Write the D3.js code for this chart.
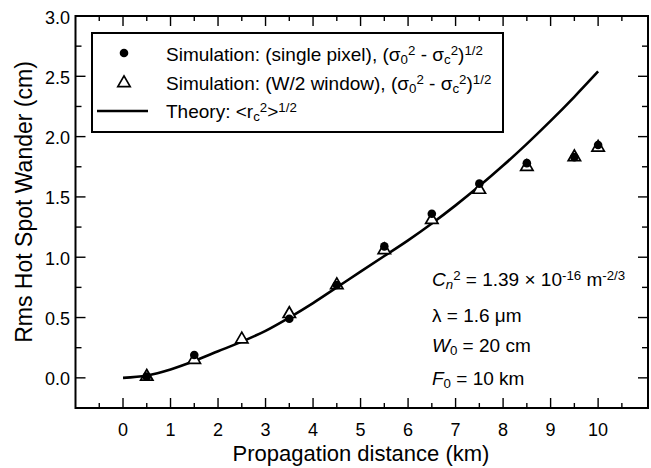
<!DOCTYPE html>
<html><head><meta charset="utf-8">
<script src="https://cdn.jsdelivr.net/npm/d3@7"></script>
<style>body{margin:0;background:#fff}svg{display:block}text{font-family:"Liberation Sans",Arial,sans-serif;fill:#000}</style>
</head><body>
<svg id="c" width="651" height="468"></svg>
<script>
const simDist = [0.5,1.5,3.5,4.5,5.5,6.5,7.5,8.5,9.5,10];
const simSingle = [0.01,0.19,0.49,0.77,1.09,1.36,1.61,1.78,1.83,1.93];
const winDist = [0.5,1.5,2.5,3.5,4.5,5.5,6.5,7.5,8.5,9.5,10];
const simWindow = [0.01,0.15,0.32,0.53,0.77,1.06,1.31,1.56,1.75,1.83,1.91];
const theoryDist = [0,0.5,1,1.5,2,2.5,3,3.5,4,4.5,5,5.5,6,6.5,7,7.5,8,8.5,9,9.5,10];
const theoryVal = [0,0.02,0.07,0.14,0.22,0.30,0.39,0.50,0.62,0.75,0.88,1.01,1.14,1.28,1.43,1.59,1.76,1.94,2.13,2.33,2.54];
const xTicks = [0,1,2,3,4,5,6,7,8,9,10];
const yTicks = [0,0.5,1,1.5,2,2.5,3];

const svg = d3.select("#c");
const L=75.5,R=648,T=16,B=408;
const x = d3.scaleLinear().domain([-1,11.05]).range([L,R]);
const y = d3.scaleLinear().domain([-0.25,3]).range([B,T]);

svg.append("rect").attr("x",L).attr("y",T).attr("width",R-L).attr("height",B-T)
  .attr("fill","none").attr("stroke","#000").attr("stroke-width",2);

const xMinor = d3.range(-0.5,11,1);
const xMajor = d3.range(0,11,1);
const yMinor = d3.range(-0.25,3,0.5);
const g = svg.append("g").attr("stroke","#000").attr("stroke-width",1.4);
function tk(x1,y1,x2,y2){g.append("line").attr("x1",x1).attr("y1",y1).attr("x2",x2).attr("y2",y2);}
xMajor.forEach(v=>{tk(x(v),B,x(v),B-10);tk(x(v),T,x(v),T+10);});
xMinor.forEach(v=>{tk(x(v),B,x(v),B-5);tk(x(v),T,x(v),T+5);});
yTicks.forEach(v=>{tk(L,y(v),L+10,y(v));tk(R,y(v),R-10,y(v));});
yMinor.forEach(v=>{tk(L,y(v),L+6,y(v));tk(R,y(v),R-6,y(v));});

svg.selectAll(".xl").data(xTicks).join("text").attr("x",d=>x(d)).attr("y",436)
  .attr("text-anchor","middle").attr("font-size",18).text(d=>d);
svg.selectAll(".yl").data(yTicks).join("text").attr("x",70).attr("y",d=>y(d)+7.5)
  .attr("text-anchor","end").attr("font-size",18).text(d=>d3.format(".1f")(d));
svg.append("text").attr("x",361).attr("y",461).attr("text-anchor","middle").attr("font-size",22)
  .text("Propagation distance (km)");
svg.append("text").attr("transform","translate(32,202) rotate(-90)").attr("text-anchor","middle")
  .attr("font-size",23).text("Rms Hot Spot Wander (cm)");

const line = d3.line().x((d,i)=>x(theoryDist[i])).y(d=>y(d)).curve(d3.curveMonotoneX);
svg.append("path").attr("d",line(theoryVal)).attr("fill","none").attr("stroke","#000").attr("stroke-width",2.6);

const tri = d3.symbol().type(d3.symbolTriangle).size(66);
svg.selectAll(".tri").data(simWindow).join("path")
  .attr("transform",(d,i)=>`translate(${x(winDist[i])},${y(d)})`).attr("d",tri())
  .attr("fill","#fff").attr("stroke","#000").attr("stroke-width",1.7);
svg.selectAll(".cir").data(simSingle).join("circle")
  .attr("cx",(d,i)=>x(simDist[i])).attr("cy",d=>y(d)).attr("r",4.3).attr("fill","#000");

// legend
svg.append("rect").attr("x",92).attr("y",33).attr("width",411).attr("height",99)
  .attr("fill","#fff").attr("stroke","#000").attr("stroke-width",2);
svg.append("circle").attr("cx",124).attr("cy",53).attr("r",4.3).attr("fill","#000");
svg.append("path").attr("transform","translate(124,83)").attr("d",tri()).attr("fill","#fff").attr("stroke","#000").attr("stroke-width",1.7);
svg.append("line").attr("x1",97).attr("x2",148).attr("y1",111).attr("y2",111).attr("stroke","#000").attr("stroke-width",2.6);

function addRich(xp,yp,parts,fs){
  const t=svg.append("text").attr("x",xp).attr("y",yp).attr("font-size",fs);
  parts.forEach(p=>{
    const s=t.append("tspan").text(p.t);
    if(p.s) s.attr("font-size",fs*0.7).attr("baseline-shift",p.s==="sup"?"45%":"-25%");
    if(p.i) s.attr("font-style","italic");
  });
  return t;
}
const sig=[{t:"(σ"},{t:"0",s:"sub"},{t:"2",s:"sup"},{t:" - σ"},{t:"c",s:"sub"},{t:"2",s:"sup"},{t:")"},{t:"1/2",s:"sup"}];
addRich(166,61,[{t:"Simulation: (single pixel), "}].concat(sig),19);
addRich(166,90,[{t:"Simulation: (W/2 window), "}].concat(sig),19);
addRich(166,118,[{t:"Theory: <r"},{t:"c",s:"sub"},{t:"2",s:"sup"},{t:">"},{t:"1/2",s:"sup"}],19);

addRich(432,286,[{t:"C",i:1},{t:"n",s:"sub",i:1},{t:"2",s:"sup"},{t:" = 1.39 × 10"},{t:"-16",s:"sup"},{t:" m"},{t:"-2/3",s:"sup"}],19);
addRich(432,322,[{t:"λ = 1.6 μm"}],19);
addRich(432,352,[{t:"W",i:1},{t:"0",s:"sub"},{t:" = 20 cm"}],19);
addRich(432,385,[{t:"F",i:1},{t:"0",s:"sub"},{t:" = 10 km"}],19);
</script>
</body></html>
